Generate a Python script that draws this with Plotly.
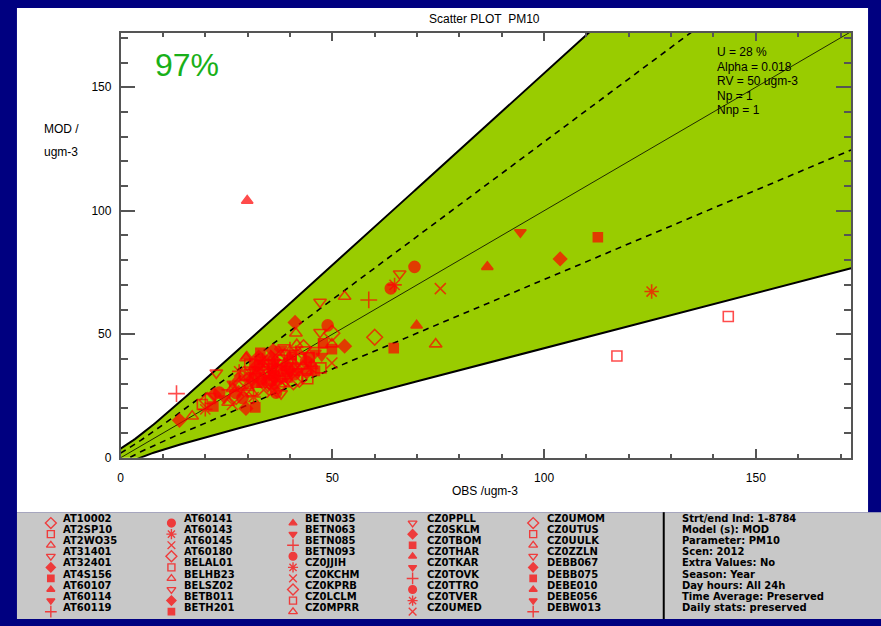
import numpy as np
import plotly.graph_objects as go

W, H = 881, 626

# Model quality objective parameters
U_PCT = 28
ALPHA = 0.018
RV = 50
NP = 1
NNP = 1

X_MAX = 172.5
Y_MAX = 172.1

stations = [
    "AT10002", "AT2SP10", "AT2WO35", "AT31401", "AT32401", "AT4S156", "AT60107", "AT60114", "AT60119",
    "AT60141", "AT60143", "AT60145", "AT60180", "BELAL01", "BELHB23", "BELSZ02", "BETB011", "BETH201",
    "BETN035", "BETN063", "BETN085", "BETN093", "CZ0JJIH", "CZ0KCHM", "CZ0KPRB", "CZ0LCLM", "CZ0MPRR",
    "CZ0PPLL", "CZ0SKLM", "CZ0TBOM", "CZ0THAR", "CZ0TKAR", "CZ0TOVK", "CZ0TTRO", "CZ0TVER", "CZ0UMED",
    "CZ0UMOM", "CZ0UTUS", "CZ0UULK", "CZ0ZZLN", "DEBB067", "DEBB075", "DEBE010", "DEBE056", "DEBW013",
]

info_lines = [
    "Strt/end Ind: 1-8784", "Model (s): MOD", "Parameter: PM10", "Scen: 2012", "Extra Values: No",
    "Season: Year", "Day hours: All 24h", "Time Average: Preserved", "Daily stats: preserved",
]

# IDL-style symbol cycle
symbol_cycle = ["diamond-open", "square-open", "triangle-up-open", "triangle-down-open",
                "diamond", "square", "triangle-up", "triangle-down",
                "cross-thin-open", "circle", "asterisk-open", "x-thin-open"]
symbol_size = [12, 10, 11, 11, 10, 9, 10, 10, 12, 11, 12, 11]

# Yearly mean observed / modelled values per station (ugm-3) and symbol index
obs_out = [29.9, 13.2, 13.9, 16.9, 117.2, 143.5, 125.4, 103.8, 112.7, 94.4, 86.6, 75.5, 69.4, 65.9,
           64.7, 63.8, 58.6, 52.9, 47.1, 41.2, 48.9, 41.4, 47.1, 49.9, 69.9, 60.0, 52.9, 64.5, 74.4,
           49.9, 47.5, 49.9, 47.3, 45.9, 22.6, 37.9, 40.0, 29.6, 37.9, 36.7, 31.8, 21.2, 26.4, 29.6,
           23.3, 26.4, 20.5, 19.3, 20.0, 21.9, 24.5, 25.4, 22.1, 27.3, 49.9, 47.8, 44.5, 43.2]
mod_out = [104.1, 26.0, 15.2, 16.8, 41.2, 57.2, 67.3, 80.5, 89.3, 91.3, 77.3, 68.5, 77.3, 74.5,
           70.0, 68.6, 63.9, 65.3, 63.1, 54.8, 53.6, 50.4, 50.8, 50.4, 53.6, 48.8, 45.2, 44.4, 46.0,
           44.0, 41.2, 38.4, 36.4, 35.2, 34.4, 44.0, 43.6, 40.4, 26.0, 26.4, 20.4, 24.0, 21.6, 20.0,
           26.4, 28.0, 23.2, 21.6, 19.6, 20.8, 24.0, 22.4, 25.6, 24.8, 46.0, 46.4, 40.5, 44.6]
sym_out = [6, 8, 4, 2, 1, 1, 10, 4, 5, 7, 6, 11, 9, 3,
           10, 9, 8, 2, 3, 4, 9, 2, 3, 0, 6, 0, 4, 5, 2,
           5, 7, 11, 1, 5, 3, 7, 8, 2, 3, 9, 5, 1, 11, 4,
           9, 2, 0, 1, 10, 5, 7, 2, 4, 0, 2, 5, 1, 0]

obs_core = [28.5, 29.4, 30.1, 30.8, 31.2, 31.6, 32.0, 32.4, 32.9, 33.1, 33.5, 33.8, 34.2, 34.6, 34.9,
            35.2, 35.5, 35.8, 36.1, 36.4, 36.7, 37.0, 37.3, 37.6, 37.9, 38.2, 38.5, 38.8, 39.1, 39.4,
            39.8, 40.2, 40.6, 41.0, 41.4, 41.8, 42.2, 42.6, 43.0, 43.5, 44.0, 44.6, 45.2, 46.0, 46.8,
            27.2, 28.0, 29.0, 29.8, 30.5, 31.0, 31.9, 32.6, 33.3, 34.0, 34.4, 35.0, 35.6, 36.0, 36.6,
            37.2, 37.8, 38.4, 39.0, 39.6, 40.4, 41.2, 42.0, 42.8, 43.8, 45.0, 33.7, 35.3, 36.9, 38.0,
            34.8, 32.2, 30.3, 27.8, 26.5, 25.8, 28.8, 31.4, 35.8, 40.8, 44.2, 41.6, 38.6, 36.0, 33.0,
            29.8, 31.5, 33.9, 36.3, 38.9, 32.8, 35.1, 37.5, 30.0]
mod_core = [30.2, 33.5, 28.4, 35.6, 31.9, 38.2, 29.6, 34.4, 36.8, 32.1, 39.5, 27.5, 35.1, 37.6, 30.6,
            33.4, 40.6, 36.2, 28.9, 38.8, 34.0, 31.4, 36.9, 42.1, 33.2, 39.4, 29.9, 35.7, 37.8, 32.5,
            40.9, 35.0, 38.4, 33.8, 42.6, 36.6, 31.8, 39.9, 37.1, 43.8, 34.9, 40.8, 38.0, 42.5, 44.6,
            26.3, 35.0, 27.1, 31.0, 37.9, 26.2, 33.0, 40.8, 30.4, 38.6, 32.2, 36.9, 31.2, 34.8, 41.5,
            29.0, 37.5, 34.2, 30.9, 36.2, 41.4, 37.8, 35.1, 33.4, 39.0, 36.2, 34.8, 38.0, 35.5, 32.0,
            29.0, 37.2, 32.6, 32.2, 30.0, 27.5, 24.2, 24.6, 26.6, 30.8, 32.0, 45.8, 44.6, 43.4, 42.5,
            41.0, 35.2, 36.0, 33.1, 34.6, 38.8, 31.0, 39.8, 29.2]
sym_core = [i % 12 for i in range(len(obs_core))]

obs = np.array(obs_out + obs_core)
mod = np.array(mod_out + mod_core)
sym = np.array(sym_out + sym_core)


def unc(o):
    u = U_PCT / 100.0
    return u * np.sqrt((1 - ALPHA) * o ** 2 + ALPHA * RV ** 2)


inside = (mod <= obs + 2 * unc(obs)) & (mod >= obs - 2 * unc(obs))
pct_inside = int(round(100.0 * inside.sum() / len(obs)))

o_grid = np.linspace(0, X_MAX, 400)
lo2 = o_grid - 2 * unc(o_grid)
hi2 = o_grid + 2 * unc(o_grid)
lo1 = o_grid - unc(o_grid)
hi1 = o_grid + unc(o_grid)

GREEN = "#99CC00"
RED = "#FF0000"
NAVY = "#000080"
FONT = "Liberation Sans"
LEG_FONT = dict(family="DejaVu Sans", size=10, color="black", weight="bold")


def px(x):
    return x / W


def py(y):
    return 1 - y / H


fig = go.Figure()

# acceptance band
fig.add_trace(go.Scatter(x=o_grid, y=lo2, mode="lines", line=dict(width=0), hoverinfo="skip"))
fig.add_trace(go.Scatter(x=o_grid, y=hi2, mode="lines", line=dict(width=0), fill="tonexty",
                         fillcolor=GREEN, hoverinfo="skip"))
for yy in (lo2, hi2):
    fig.add_trace(go.Scatter(x=o_grid, y=yy, mode="lines", line=dict(color="black", width=2)))
for yy in (lo1, hi1):
    fig.add_trace(go.Scatter(x=o_grid, y=yy, mode="lines",
                             line=dict(color="black", width=1.6, dash="6px,5px")))
fig.add_trace(go.Scatter(x=[0, X_MAX], y=[0, X_MAX], mode="lines", line=dict(color="black", width=0.8)))

# station points
fig.add_trace(go.Scatter(
    x=obs, y=mod, mode="markers", cliponaxis=True,
    marker=dict(symbol=[symbol_cycle[s] for s in sym], size=[symbol_size[s] for s in sym],
                color=RED, line=dict(color=RED, width=1.6)),
))

# legend symbols on a pixel-space overlay axis
col_sym_x = [48, 169, 291, 411, 532]
col_txt_x = [59, 181, 302, 424, 545]
row0, drow = 524.5, 11.2
leg_x, leg_y, leg_s, leg_z = [], [], [], []
for i, name in enumerate(stations):
    c, r = divmod(i, 9)
    leg_x.append(col_sym_x[c])
    leg_y.append(row0 + r * drow + 4.5)
    leg_s.append(symbol_cycle[i % 12])
    leg_z.append(symbol_size[i % 12] * 0.7)
fig.add_trace(go.Scatter(
    x=leg_x, y=leg_y, xaxis="x2", yaxis="y2", mode="markers", cliponaxis=False,
    marker=dict(symbol=leg_s, size=leg_z, color=RED, line=dict(color=RED, width=1.4)),
))

annotations = []
for i, name in enumerate(stations):
    c, r = divmod(i, 9)
    annotations.append(dict(x=px(col_txt_x[c]), y=py(row0 + r * drow), xref="paper", yref="paper",
                            text=name, showarrow=False, xanchor="left", yanchor="middle",
                            borderpad=0, font=LEG_FONT))
for r, line in enumerate(info_lines):
    annotations.append(dict(x=px(680), y=py(row0 + r * drow), xref="paper", yref="paper",
                            text=line, showarrow=False, xanchor="left", yanchor="middle",
                            borderpad=0, font=LEG_FONT))

stats_lines = [f"U = {U_PCT} %", f"Alpha = {ALPHA}", f"RV = {RV} ugm-3", f"Np = {NP}", f"Nnp = {NNP}"]
for r, line in enumerate(stats_lines):
    annotations.append(dict(x=px(715), y=py(52.7 + r * 14.75), xref="paper", yref="paper",
                            text=line, showarrow=False, xanchor="left", yanchor="middle", borderpad=0,
                            font=dict(family=FONT, size=12, color="black")))

annotations += [
    dict(x=px(483), y=py(19), xref="paper", yref="paper", text="Scatter PLOT  PM10",
         showarrow=False, xanchor="center", yanchor="middle", font=dict(family=FONT, size=12, color="black")),
    dict(x=px(152), y=py(66), xref="paper", yref="paper", text=f"{pct_inside}%", borderpad=0,
         showarrow=False, xanchor="left", yanchor="middle", font=dict(family=FONT, size=32, color="#19B019")),
    dict(x=px(484), y=py(497), xref="paper", yref="paper", text="OBS /ugm-3",
         showarrow=False, xanchor="center", yanchor="middle", font=dict(family=FONT, size=12, color="black")),
    dict(x=px(40), y=py(130), xref="paper", yref="paper", text="MOD /", borderpad=0,
         showarrow=False, xanchor="left", yanchor="middle", font=dict(family=FONT, size=12, color="black")),
    dict(x=px(40), y=py(154), xref="paper", yref="paper", text="ugm-3", borderpad=0,
         showarrow=False, xanchor="left", yanchor="middle", font=dict(family=FONT, size=12, color="black")),
]

shapes = [
    dict(type="rect", xref="paper", yref="paper", x0=px(14), x1=px(868), y0=py(518), y1=py(8),
         fillcolor="white", line=dict(width=0), layer="below"),
    dict(type="rect", xref="paper", yref="paper", x0=px(14), x1=px(881), y0=py(626), y1=py(518),
         fillcolor="#C8C8C8", line=dict(width=0), layer="below"),
    dict(type="line", xref="paper", yref="paper", x0=px(663), x1=px(663), y0=py(626), y1=py(518),
         line=dict(color="black", width=2)),
]

axis_col = "#555555"
common = dict(showgrid=False, zeroline=False, showline=True, linecolor=axis_col, linewidth=1.5,
              ticks="inside", mirror="allticks", tickcolor=axis_col, tickwidth=1.5,
              tickfont=dict(family=FONT, size=12, color="black"), tickmode="array",
              tickvals=[0, 50, 100, 150], ticktext=["0", "50", "100", "150"])

fig.update_layout(
    width=W, height=H, margin=dict(l=0, r=0, t=0, b=0),
    paper_bgcolor=NAVY, plot_bgcolor="rgba(0,0,0,0)", showlegend=False,
    xaxis=dict(domain=[px(118), px(851)], range=[0, X_MAX], ticklen=9, ticklabelstandoff=8,
               minor=dict(dtick=10, tick0=0, ticklen=4.5, ticks="inside", tickcolor=axis_col, tickwidth=1.5),
               **common),
    yaxis=dict(domain=[py(463), py(33)], range=[0, Y_MAX], ticklen=15, ticklabelstandoff=5,
               minor=dict(dtick=10, tick0=0, ticklen=7.5, ticks="inside", tickcolor=axis_col, tickwidth=1.5),
               **common),
    xaxis2=dict(domain=[0, 1], range=[0, W], visible=False, anchor="y2", fixedrange=True),
    yaxis2=dict(domain=[0, 1], range=[H, 0], visible=False, anchor="x2", fixedrange=True),
    annotations=annotations, shapes=shapes,
)

fig.write_html("out.html")
